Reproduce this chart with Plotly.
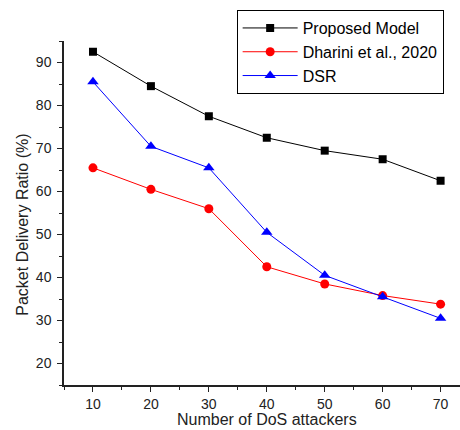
import plotly.graph_objects as go

attackers = [10, 20, 30, 40, 50, 60, 70]
proposed = [92.5, 84.5, 77.5, 72.5, 69.5, 67.5, 62.5]
dharini = [65.5, 60.5, 56.0, 42.5, 38.5, 35.8, 33.8]
dsr = [85.5, 70.5, 65.5, 50.5, 40.5, 35.5, 30.5]

FONT = "Liberation Sans, Arial, sans-serif"

fig = go.Figure()
fig.add_trace(go.Scatter(x=attackers, y=proposed, mode="lines+markers", name="Proposed Model",
                         line=dict(color="#000000", width=1),
                         marker=dict(symbol="square", size=8, color="#000000")))
fig.add_trace(go.Scatter(x=attackers, y=dharini, mode="lines+markers", name="Dharini et al., 2020",
                         line=dict(color="#ff0000", width=1),
                         marker=dict(symbol="circle", size=9, color="#ff0000")))
fig.add_trace(go.Scatter(x=attackers, y=dsr, mode="lines+markers", name="DSR",
                         line=dict(color="#0000ff", width=1),
                         marker=dict(symbol="triangle-up", size=10, color="#0000ff")))

fig.update_layout(
    width=460, height=430,
    margin=dict(l=64, r=0, t=41, b=45),
    paper_bgcolor="white", plot_bgcolor="white",
    font=dict(family=FONT, size=14, color="#222222"),
    legend=dict(x=0.436, y=1.09, xanchor="left", yanchor="top",
                bordercolor="#000000", borderwidth=1, bgcolor="white",
                font=dict(size=16, color="#000000"), tracegroupgap=0,
                itemwidth=55),
    xaxis=dict(range=[5, 73.35], showline=True, linecolor="#222222", linewidth=1.5,
               ticks="outside", ticklen=5, tickcolor="#222222", tick0=10, dtick=10,
               showgrid=False, zeroline=False,
               minor=dict(ticks="outside", ticklen=3, tick0=5, dtick=5, tickcolor="#222222")),
    yaxis=dict(range=[15, 95], showline=True, linecolor="#222222", linewidth=1.5,
               ticks="outside", ticklen=5, tickcolor="#222222", tick0=10, dtick=10,
               showgrid=False, zeroline=False, ticklabelstandoff=3,
               minor=dict(ticks="outside", ticklen=3, tick0=5, dtick=5, tickcolor="#222222")),
    annotations=[
        dict(text="Number of DoS attackers", xref="paper", yref="paper", x=0.512, y=-0.1017,
             xanchor="center", yanchor="middle", showarrow=False,
             font=dict(size=16, color="#222222")),
        dict(text="Packet Delivery Ratio (%)", xref="paper", yref="paper", x=-0.1035, y=0.466,
             xanchor="center", yanchor="middle", showarrow=False, textangle=-90,
             font=dict(size=16, color="#222222")),
    ],
)

fig.write_html("out.html")
